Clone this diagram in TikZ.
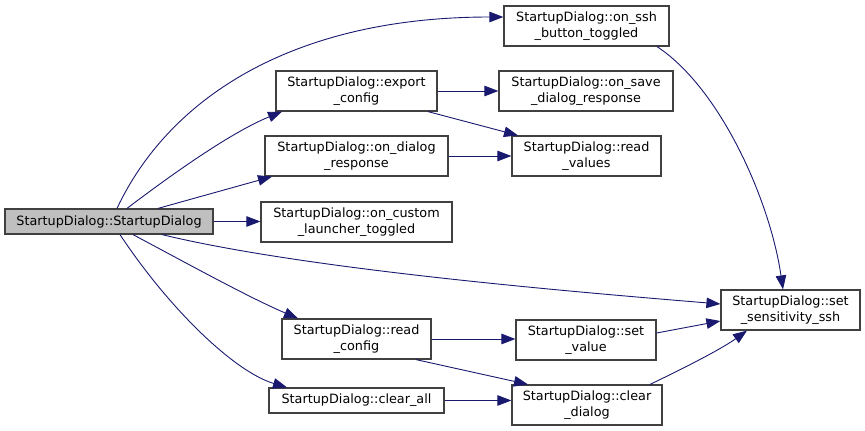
\documentclass[tikz,border=0pt]{standalone}
\usepackage{fontspec}
\setmainfont{DejaVu Sans}
\usetikzlibrary{arrows.meta}
\definecolor{edgeblue}{RGB}{25,25,112}
\definecolor{maingray}{RGB}{191,191,191}
\tikzset{
	fn/.style={draw=black!75,line width=1.2pt,fill=white,align=center,inner sep=0pt,font=\fontsize{12.8}{15.5}\selectfont},
	call/.style={edgeblue,line width=0.9pt,-{Triangle[length=14pt,width=10.5pt]}}
}
\begin{document}
\begin{tikzpicture}[x=1pt,y=-1pt]
			\useasboundingbox(0,0)rectangle(865,431);
			\node[fn,fill=maingray,minimum width=208pt,minimum height=25pt](main)at(109,221.5){StartupDialog::StartupDialog};
			\node[fn,minimum width=165pt,minimum height=40pt](onssh)at(586.5,26){StartupDialog::on\_ssh\\\_button\_toggled};
			\node[fn,minimum width=161pt,minimum height=40pt](exportcfg)at(356.5,91){StartupDialog::export\\\_config};
			\node[fn,minimum width=174pt,minimum height=40pt](onsave)at(586,91){StartupDialog::on\_save\\\_dialog\_response};
			\node[fn,minimum width=183pt,minimum height=40pt](ondialog)at(356.5,156){StartupDialog::on\_dialog\\\_response};
			\node[fn,minimum width=149pt,minimum height=40pt](readvals)at(586.5,156){StartupDialog::read\\\_values};
			\node[fn,minimum width=191pt,minimum height=40pt](oncustom)at(356.5,222){StartupDialog::on\_custom\\\_launcher\_toggled};
			\node[fn,minimum width=139pt,minimum height=40pt](setsens)at(790.5,310){StartupDialog::set\\\_sensitivity\_ssh};
			\node[fn,minimum width=149pt,minimum height=40pt](readcfg)at(356.5,339){StartupDialog::read\\\_config};
			\node[fn,minimum width=140pt,minimum height=40pt](setval)at(586,340){StartupDialog::set\\\_value};
			\node[fn,minimum width=175pt,minimum height=25pt](clearall)at(356.5,400.5){StartupDialog::clear\_all};
			\node[fn,minimum width=150pt,minimum height=40pt](cleardlg)at(587,405){StartupDialog::clear\\\_dialog};
			% calls from the constructor
			\draw[call](main.north-|117,0)..controls(168,100)and(290,17)..(onssh.west|-0,17);
			\draw[call](main.north-|127,0)..controls(175,172)and(232,132)..(exportcfg.south-|282,0);
			\draw[call](main.north-|158,0)--(ondialog.south-|272,0);
			\draw[call](main.east)--(oncustom.west|-main.east);
			\draw[call](main.south-|162,0)..controls(300,268)and(550,290)..(setsens.west|-0,304);
			\draw[call](main.south-|133,0)..controls(190,265)and(250,298)..(readcfg.north-|298,0);
			\draw[call](main.south-|120,0)..controls(170,310)and(235,372)..(clearall.north-|287,0);
			% second level
			\draw[call](exportcfg.east)--(onsave.west);
			\draw[call](exportcfg.south-|428,0)--(readvals.north-|518,0);
			\draw[call](ondialog.east)--(readvals.west);
			\draw[call](onssh.south-|657,0)..controls(720,88)and(770,200)..(setsens.north-|783,0);
			\draw[call](readcfg.east)--(setval.west|-readcfg.east);
			\draw[call](readcfg.south-|416,0)--(cleardlg.north-|528,0);
			\draw[call](clearall.east)--(cleardlg.west|-clearall.east);
			\draw[call](setval.east|-0,333)--(setsens.west|-0,321);
			\draw[call](cleardlg.north-|650,0)..controls(680,370)and(720,350)..(setsens.south-|747,0);
		\end{tikzpicture}
\end{document}
